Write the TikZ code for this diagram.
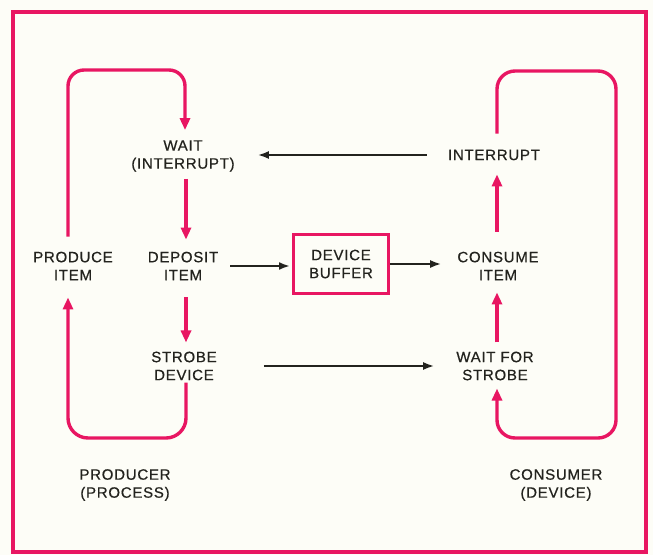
\documentclass[tikz,border=0pt]{standalone}
\usepackage{fontspec}
\setmainfont{Liberation Sans}[LetterSpace=5,FakeBold=0.6]
\usetikzlibrary{arrows.meta}
\definecolor{pinkline}{RGB}{232,22,98}
\definecolor{paper}{RGB}{253,253,247}
\definecolor{ink}{RGB}{35,35,30}

\begin{document}
\begin{tikzpicture}[x=1pt,y=-1pt,
  lbl/.style={align=center,font=\fontsize{15}{18}\selectfont,text=ink,inner sep=2pt},
  pk/.style={pinkline,line width=3.4pt,-{Triangle[length=12pt,width=10pt]}},
  blk/.style={ink,line width=2pt,-{Latex[length=11pt,width=8pt]}}]
  \fill[paper] (0,0) rectangle (653,555);
  \draw[pinkline,line width=3.6pt] (13,12) rectangle (646,552);
  % producer side
  \node[lbl] (produce) at (73,266) {PRODUCE\\ITEM};
  \node[lbl] (wait) at (183,156) {WAIT\\(INTERRUPT)};
  \node[lbl] (deposit) at (183,266) {DEPOSIT\\ITEM};
  \node[lbl] (strobe) at (184,366) {STROBE\\DEVICE};
  \node[lbl] (producer) at (125,485) {PRODUCER\\(PROCESS)};
  % shared buffer
  \node[lbl,draw=pinkline,line width=3pt,minimum width=95pt,minimum height=59pt] (buffer) at (341,264) {DEVICE\\BUFFER};
  % consumer side
  \node[lbl] (interrupt) at (494,155) {INTERRUPT};
  \node[lbl] (consume) at (498,266) {CONSUME\\ITEM};
  \node[lbl] (waitstrobe) at (495,366) {WAIT FOR\\STROBE};
  \node[lbl] (consumer) at (556,485) {CONSUMER\\(DEVICE)};
  \coordinate (ptop) at (120,70);
  \coordinate (pbot) at (120,438);
  \coordinate (ctop) at (616,71);
  \coordinate (cbot) at (616,438);
  % producer loop
  \draw[pk,rounded corners=16pt,shorten <=13pt,shorten >=8pt] ([xshift=-5pt]produce.north) |- (ptop) -| ([xshift=2pt]wait.north);
  \draw[pk,shorten <=5pt,shorten >=10pt] ([xshift=3pt]wait.south) -- ([xshift=3pt]deposit.north);
  \draw[pk,shorten <=15pt,shorten >=7pt] ([xshift=3pt]deposit.south) -- ([xshift=2pt]strobe.north);
  \draw[pk,rounded corners=20pt,shorten >=15pt] ([xshift=2pt]strobe.south) |- (pbot) -| ([xshift=-5pt]produce.south);
  % consumer loop
  \draw[pk,shorten <=7pt,shorten >=10pt] ([xshift=2pt]waitstrobe.north) -- ([xshift=2pt]waitstrobe.north |- consume.south);
  \draw[pk,shorten <=18pt,shorten >=12pt] ([xshift=-1pt]consume.north) -- ([xshift=3pt]interrupt.south);
  \draw[pk,rounded corners=18pt,shorten <=14pt,shorten >=6pt] ([xshift=3pt]interrupt.north) |- (ctop) -- (cbot) -| ([xshift=2pt]waitstrobe.south);
  % data and signals
  \draw[blk,shorten <=10pt,shorten >=2pt] (deposit.east) -- (deposit.east -| buffer.west);
  \draw[blk,shorten >=14pt] (buffer.east) -- (buffer.east -| consume.west);
  \draw[blk,shorten <=19pt,shorten >=21pt] (interrupt.west) -- (interrupt.west -| wait.east);
  \draw[blk,shorten <=45pt,shorten >=20pt] (strobe.east) -- (strobe.east -| waitstrobe.west);
\end{tikzpicture}
\end{document}
